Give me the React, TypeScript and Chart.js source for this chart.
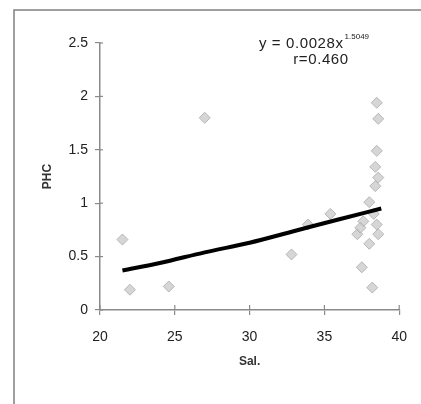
import React, { useEffect, useRef } from "react";
import { Chart, registerables } from "chart.js";

Chart.register(...registerables);

// Observed data: salinity (x) vs PHC (y)
const salinity = [21.5, 22.0, 24.6, 27.0, 32.8, 33.9, 35.4, 38.5, 38.6, 38.5, 38.4, 38.6, 38.4, 38.0, 37.6, 37.2, 38.0, 38.5, 38.6, 37.5, 38.2, 37.4, 38.3];
const phc = [0.66, 0.19, 0.22, 1.8, 0.52, 0.8, 0.9, 1.94, 1.79, 1.49, 1.34, 1.24, 1.16, 1.01, 0.83, 0.71, 0.62, 0.8, 0.71, 0.4, 0.21, 0.77, 0.9];

// Trend curve
const trendX = [21.5, 24, 27, 30, 33, 36, 38.8];
const trendY = [0.37, 0.44, 0.54, 0.63, 0.74, 0.85, 0.95];

const xTicks = [20, 25, 30, 35, 40];
const yTicks = [0, 0.5, 1, 1.5, 2, 2.5];
const yTickLabels = ["0", "0.5", "1", "1.5", "2", "2.5"];

const equationMain = "y = 0.0028x";
const equationExp = "1.5049";
const equationR = "r=0.460";
const xTitle = "Sal.";
const yTitle = "PHC";

const FONT = "'Liberation Sans', Arial, sans-serif";

export default function App() {
  const ref = useRef<HTMLCanvasElement | null>(null);

  useEffect(() => {
    if (!ref.current) return;
    const framePlugin = {
      id: "frame",
      beforeDraw(chart: any) {
        const ctx = chart.ctx;
        ctx.save();
        ctx.fillStyle = "#ffffff";
        ctx.fillRect(0, 0, chart.width, chart.height);
        ctx.strokeStyle = "#808080";
        ctx.lineWidth = 1.5;
        ctx.beginPath();
        ctx.moveTo(14, chart.height);
        ctx.lineTo(14, 10);
        ctx.lineTo(chart.width, 10);
        ctx.stroke();
        ctx.restore();
      },
      afterDraw(chart: any) {
        const ctx = chart.ctx;
        const xs = chart.scales.x;
        const ys = chart.scales.y;
        ctx.save();
        ctx.strokeStyle = "#8a8a8a";
        ctx.lineWidth = 1.2;
        // inner halves of the crossing tick marks
        xTicks.forEach((v) => {
          const px = xs.getPixelForValue(v);
          ctx.beginPath();
          ctx.moveTo(px, ys.bottom);
          ctx.lineTo(px, ys.bottom - 5);
          ctx.stroke();
        });
        yTicks.forEach((v) => {
          const py = ys.getPixelForValue(v);
          ctx.beginPath();
          ctx.moveTo(xs.left, py);
          ctx.lineTo(xs.left + 3, py);
          ctx.stroke();
        });
        // equation annotation
        const area = chart.chartArea;
        ctx.fillStyle = "#222";
        ctx.textBaseline = "alphabetic";
        ctx.font = `15px ${FONT}`;
        (ctx as any).letterSpacing = "0.6px";
        ctx.textAlign = "left";
        const ex = area.left + 159;
        const ey = area.top + 5;
        ctx.fillText(equationMain, ex, ey);
        const w = ctx.measureText(equationMain).width;
        ctx.font = `8px ${FONT}`;
        (ctx as any).letterSpacing = "0px";
        ctx.fillText(equationExp, ex + w + 1, ey - 9);
        ctx.font = `15px ${FONT}`;
        (ctx as any).letterSpacing = "0.6px";
        ctx.textAlign = "center";
        ctx.fillText(equationR, area.left + 221, ey + 16);
        ctx.restore();
      },
    };

    const chart = new Chart(ref.current, {
      type: "scatter",
      data: {
        datasets: [
          {
            type: "line",
            label: "trend",
            data: trendX.map((x, i) => ({ x, y: trendY[i] })),
            borderColor: "#000000",
            borderWidth: 4,
            pointRadius: 0,
            fill: false,
            cubicInterpolationMode: "monotone",
            order: 0,
          } as any,
          {
            label: "PHC",
            data: salinity.map((x, i) => ({ x, y: phc[i] })),
            pointStyle: "rectRot",
            pointRadius: 5.5,
            backgroundColor: "rgba(200,200,200,0.75)",
            borderColor: "rgba(170,170,170,0.8)",
            borderWidth: 1,
            order: 1,
          },
        ],
      },
      options: {
        responsive: false,
        animation: false,
        devicePixelRatio: 1,
        layout: { padding: { left: 0, top: 43, right: 18, bottom: 0 } },
        plugins: {
          legend: { display: false },
          tooltip: { enabled: false },
        },
        scales: {
          x: {
            type: "linear",
            min: 20,
            max: 40,
            afterBuildTicks: (s: any) => {
              s.ticks = xTicks.map((v) => ({ value: v }));
            },
            afterFit: (s: any) => {
              s.height = 94;
            },
            ticks: {
              color: "#222",
              font: { family: FONT, size: 14 },
              padding: 14,
              maxRotation: 0,
              callback: (v: any) => String(v),
            },
            grid: {
              drawOnChartArea: false,
              drawTicks: true,
              tickLength: 5,
              color: "#8a8a8a",
              lineWidth: 1.2,
            },
            border: { color: "#8a8a8a", width: 1.5 },
            title: {
              display: true,
              text: xTitle,
              color: "#333",
              font: { family: FONT, size: 12, weight: "bold" },
              padding: { top: 4, bottom: 35 },
            },
          },
          y: {
            type: "linear",
            min: 0,
            max: 2.5,
            afterBuildTicks: (s: any) => {
              s.ticks = yTicks.map((v) => ({ value: v }));
            },
            afterFit: (s: any) => {
              s.width = 100;
            },
            ticks: {
              color: "#222",
              font: { family: FONT, size: 14 },
              padding: 7,
              callback: (v: any) => {
                const i = yTicks.indexOf(Number(v));
                return i >= 0 ? yTickLabels[i] : "";
              },
            },
            grid: {
              drawOnChartArea: false,
              drawTicks: true,
              tickLength: 5,
              color: "#8a8a8a",
              lineWidth: 1.2,
            },
            border: { color: "#8a8a8a", width: 1.5 },
            title: {
              display: true,
              text: yTitle,
              color: "#333",
              font: { family: FONT, size: 12, weight: "bold" },
              padding: { top: 40, bottom: 4 },
            },
          },
        },
      },
      plugins: [framePlugin],
    });
    return () => chart.destroy();
  }, []);

  return (
    <div style={{ position: "fixed", left: 0, top: 0, width: 421, height: 404, background: "#fff" }}>
      <canvas ref={ref} width={421} height={404} style={{ display: "block", width: 421, height: 404 }} />
    </div>
  );
}
